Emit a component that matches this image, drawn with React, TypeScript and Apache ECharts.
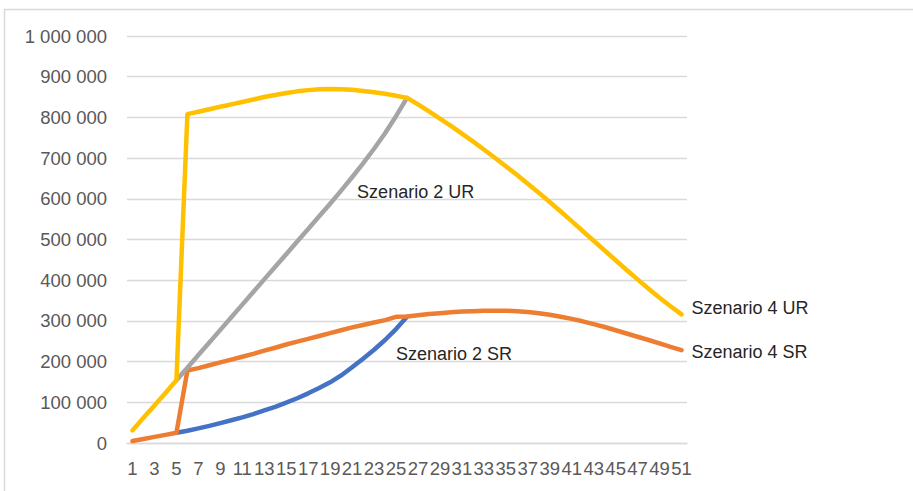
import React, { useEffect, useRef } from 'react';
import * as echarts from 'echarts';

const categories = [
  '1', '2', '3', '4', '5', '6', '7', '8', '9', '10',
  '11', '12', '13', '14', '15', '16', '17', '18', '19', '20',
  '21', '22', '23', '24', '25', '26', '27', '28', '29', '30',
  '31', '32', '33', '34', '35', '36', '37', '38', '39', '40',
  '41', '42', '43', '44', '45', '46', '47', '48', '49', '50', '51',
];

// Szenario 2 SR (blue) – hidden under orange outside cats 5..26
const szenario2SR = [
  null, null, null, null, 25000, 30000, 36000, 42000, 49000, 56000,
  63000, 71000, 80000, 89000, 99000, 110000, 122000, 135000, 149000, 166000,
  186000, 207000, 229000, 253000, 280000, 310000, null, null, null, null,
  null, null, null, null, null, null, null, null, null, null,
  null, null, null, null, null, null, null, null, null, null, null,
];

// Szenario 4 SR (orange)
const szenario4SR = [
  5000, 10000, 15000, 20000, 25000, 178000, 184000, 191000, 198000, 205000,
  212000, 219000, 227000, 234000, 242000, 249000, 256000, 263000, 270000, 277000,
  284000, 290000, 296000, 302000, 310000, 311000, 314000, 317000, 319000, 321000,
  323000, 324000, 325000, 325000, 325000, 324000, 322000, 319000, 315000, 310000,
  305000, 299000, 292000, 285000, 277000, 269000, 261000, 253000, 245000, 236000, 228000,
];

// Szenario 2 UR (gray) – hidden under yellow outside cats 5..26
const szenario2UR = [
  null, null, null, null, 154000, 185000, 216000, 247000, 278000, 309000,
  340000, 371000, 402000, 433000, 464000, 495000, 526000, 557000, 588000, 620000,
  653000, 687000, 723000, 761000, 803000, 848000, null, null, null, null,
  null, null, null, null, null, null, null, null, null, null,
  null, null, null, null, null, null, null, null, null, null, null,
];

// Szenario 4 UR (yellow)
const szenario4UR = [
  31000, 62000, 92000, 123000, 154000, 808000, 814000, 820000, 826000, 832000,
  838000, 844000, 850000, 855000, 860000, 864000, 867000, 869000, 870000, 869000,
  868000, 865000, 862000, 858000, 853000, 848000, 832000, 815000, 797000, 779000,
  760000, 741000, 721000, 701000, 680000, 659000, 637000, 615000, 592000, 569000,
  545000, 521000, 497000, 473000, 449000, 425000, 402000, 379000, 357000, 336000, 316000,
];

const seriesNames = ['Szenario 2 SR', 'Szenario 4 SR', 'Szenario 2 UR', 'Szenario 4 UR'];
const colors = ['#4472C4', '#ED7D31', '#A5A5A5', '#FFC000'];

const LABEL_FONT = 'Liberation Sans, Arial, sans-serif';

export default function App() {
  const ref = useRef<HTMLDivElement>(null);

  useEffect(() => {
    document.body.style.margin = '0';
    const chart = echarts.init(ref.current!, null, { renderer: 'svg' });
    const lineStyle = (c: string) => ({ color: c, width: 4.5, cap: 'round', join: 'round' });
    const annot = {
      color: '#262626',
      fontSize: 18,
      fontFamily: LABEL_FONT,
    };
    chart.setOption({
      animation: false,
      backgroundColor: '#ffffff',
      textStyle: { fontFamily: LABEL_FONT },
      graphic: [
        {
          type: 'rect',
          shape: { x: 4.5, y: 9.5, width: 1200, height: 1200 },
          style: { fill: 'none', stroke: '#d9d9d9', lineWidth: 1.5 },
          silent: true,
        },
      ],
      grid: { left: 127, right: 226, top: 36, bottom: 48, containLabel: false },
      xAxis: {
        type: 'category',
        data: categories,
        boundaryGap: true,
        axisTick: { show: false },
        axisLine: { show: true, lineStyle: { color: '#d9d9d9', width: 1.3 } },
        axisLabel: {
          interval: 1,
          color: '#595959',
          fontSize: 18.5,
          fontFamily: LABEL_FONT,
          margin: 16,
        },
        splitLine: { show: false },
      },
      yAxis: {
        type: 'value',
        min: 0,
        max: 1000000,
        interval: 100000,
        axisLine: { show: false },
        axisTick: { show: false },
        splitLine: { lineStyle: { color: '#d9d9d9', width: 1.3 } },
        axisLabel: {
          color: '#595959',
          fontSize: 18.5,
          fontFamily: LABEL_FONT,
          margin: 20,
          formatter: (v: number) => String(v).replace(/\B(?=(\d{3})+(?!\d))/g, ' '),
        },
      },
      series: [
        {
          name: seriesNames[0],
          type: 'line',
          data: szenario2SR,
          symbol: 'none',
          showSymbol: false,
          lineStyle: lineStyle(colors[0]),
          itemStyle: { color: colors[0] },
          markPoint: {
            symbol: 'circle',
            symbolSize: 0,
            silent: true,
            data: [
              {
                coord: [categories[22], szenario2SR[22]],
                label: {
                  show: true,
                  position: 'right',
                  distance: 22,
                  offset: [0, 4],
                  formatter: seriesNames[0],
                  ...annot,
                },
              },
            ],
          },
        },
        {
          name: seriesNames[1],
          type: 'line',
          data: szenario4SR,
          symbol: 'none',
          showSymbol: false,
          lineStyle: lineStyle(colors[1]),
          itemStyle: { color: colors[1] },
          endLabel: {
            show: true,
            formatter: seriesNames[1],
            distance: 10,
            offset: [0, 2],
            ...annot,
          },
        },
        {
          name: seriesNames[2],
          type: 'line',
          data: szenario2UR,
          symbol: 'none',
          showSymbol: false,
          lineStyle: lineStyle(colors[2]),
          itemStyle: { color: colors[2] },
          markPoint: {
            symbol: 'circle',
            symbolSize: 0,
            silent: true,
            data: [
              {
                coord: [categories[19], szenario2UR[19]],
                label: {
                  show: true,
                  position: 'right',
                  distance: 16,
                  offset: [0, 1.5],
                  formatter: seriesNames[2],
                  ...annot,
                },
              },
            ],
          },
        },
        {
          name: seriesNames[3],
          type: 'line',
          data: szenario4UR,
          symbol: 'none',
          showSymbol: false,
          lineStyle: lineStyle(colors[3]),
          itemStyle: { color: colors[3] },
          endLabel: {
            show: true,
            formatter: seriesNames[3],
            distance: 10,
            offset: [0, -6],
            ...annot,
          },
        },
      ],
    });
    return () => chart.dispose();
  }, []);

  return (
    <div
      ref={ref}
      style={{ position: 'fixed', left: 0, top: 0, width: 913, height: 491, background: '#fff' }}
    />
  );
}
